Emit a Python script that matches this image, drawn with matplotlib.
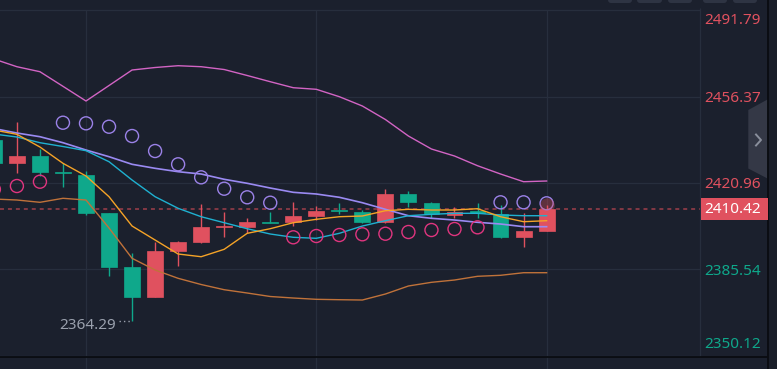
import matplotlib.pyplot as plt
from matplotlib.patches import Polygon, FancyBboxPatch, Rectangle
from matplotlib.transforms import blended_transform_factory

# candle data (oldest -> newest)
opens = [2438.56, 2429.26, 2432.01, 2425.46, 2424.35, 2408.54, 2386.44, 2374.39, 2393.23, 2396.92,
         2402.98, 2403.06, 2404.98, 2405.11, 2407.56, 2409.90, 2408.95, 2405.11, 2416.32, 2412.88,
         2407.85, 2409.36, 2408.26, 2398.96, 2401.42]
closes = [2429.14, 2432.01, 2425.58, 2425.21, 2408.54, 2386.68, 2374.39, 2393.23, 2396.79, 2402.93,
          2403.14, 2404.86, 2404.74, 2407.56, 2409.49, 2409.36, 2405.11, 2416.32, 2413.05, 2408.26,
          2409.20, 2408.54, 2398.96, 2401.42, 2410.42]
highs = [2440.50, 2446.05, 2434.75, 2429.26, 2425.99, 2408.60, 2392.17, 2396.92, 2397.32, 2412.23,
         2408.95, 2406.50, 2409.20, 2413.05, 2411.66, 2412.64, 2409.90, 2418.37, 2417.80, 2413.29,
         2411.00, 2412.64, 2411.94, 2408.54, 2412.00]
lows = [2427.50, 2425.17, 2423.82, 2419.44, 2407.97, 2382.99, 2364.29, 2374.30, 2387.09, 2396.26,
        2398.96, 2400.35, 2404.45, 2403.34, 2405.80, 2408.13, 2404.70, 2404.70, 2411.00, 2406.50,
        2406.50, 2406.74, 2398.31, 2394.87, 2401.42]

# indicators
ma5 = [2442.65, 2440.89, 2435.69, 2429.02, 2423.82, 2415.34, 2403.34, 2397.61, 2391.88, 2390.77,
       2393.80, 2400.35, 2402.24, 2404.70, 2406.09, 2407.15, 2407.44, 2409.61, 2410.18, 2409.90,
       2409.90, 2410.43, 2407.15, 2405.11, 2405.52]
ma10 = [2441.01, 2439.79, 2437.45, 2435.90, 2434.18, 2429.67, 2422.18, 2415.34, 2410.59, 2407.15,
        2404.70, 2402.24, 2400.07, 2398.72, 2398.31, 2400.35, 2403.34, 2405.52, 2407.56, 2408.13,
        2408.54, 2408.54, 2407.85, 2407.56, 2407.56]
ma30 = [2443.27, 2441.42, 2439.91, 2437.45, 2434.46, 2431.72, 2428.61, 2426.97, 2425.58, 2424.64,
        2422.47, 2420.83, 2418.90, 2417.14, 2416.45, 2415.10, 2412.88, 2410.18, 2407.56, 2406.50,
        2405.80, 2404.86, 2404.16, 2403.06, 2403.06]
boll_up = [2471.72, 2468.57, 2466.52, 2460.54, 2454.53, 2460.87, 2467.22, 2468.24, 2468.98, 2468.57,
           2467.42, 2464.97, 2462.43, 2459.97, 2459.32, 2456.29, 2452.48, 2446.95, 2440.19, 2434.87,
           2432.01, 2428.03, 2424.64, 2421.48, 2421.77]
boll_dn = [2414.40, 2413.99, 2413.05, 2414.69, 2413.99, 2402.53, 2390.12, 2385.33, 2381.93, 2379.39,
           2377.26, 2375.91, 2374.48, 2373.86, 2373.33, 2373.17, 2373.04, 2375.50, 2378.78, 2380.29,
           2381.23, 2382.75, 2383.16, 2384.22, 2384.22]
sar = [2418.37, 2419.72, 2421.48, 2445.64, 2445.39, 2444.00, 2440.19, 2434.05, 2428.61, 2423.28,
       2418.62, 2415.10, 2412.88, 2398.72, 2399.25, 2399.66, 2399.95, 2400.19, 2400.89, 2401.71,
       2402.12, 2402.81, 2413.05, 2413.05, 2412.64]

price_ticks = [2491.79, 2456.37, 2420.96, 2385.54, 2350.12]
grid_candles = [4, 14, 24]
last_price = 2410.42
low_price = 2364.29
low_index = 6

BG = '#1b202d'
GRID = '#272e3d'
RED = '#e0515f'
GREEN = '#0fa88b'
TXT_GRAY = '#9aa0ad'
FS = 11

plt.rcParams['font.family'] = ['Noto Sans', 'DejaVu Sans']

fig = plt.figure(figsize=(7.77, 3.69), dpi=100, facecolor=BG)
ax = fig.add_axes([0, 12 / 369, 700 / 777, 357 / 369])
ax.set_xlim(0.266, 30.66)
ax.set_ylim(2349.71, 2495.885)
ax.set_axis_off()
px = (2495.885 - 2349.71) / 357  # price per pixel

# grid
for p in price_ticks:
    ax.axhline(p, color=GRID, lw=0.9, zorder=0)
for i in grid_candles:
    ax.vlines(i, 2349.71 - 12 * px, price_ticks[0], color=GRID, lw=0.9, zorder=0, clip_on=False)

# last price dotted line
ax.axhline(last_price, color='#8a3a46', lw=1.3, dashes=(2.2, 2.2), zorder=1)

# candles
xs = list(range(len(opens)))
for i in xs:
    o, c = opens[i], closes[i]
    col = RED if c >= o else GREEN
    ax.vlines(i, lows[i], highs[i], color=col, lw=1.0, zorder=2)
    ax.bar(i, max(abs(c - o), 0.3), bottom=min(o, c), width=0.69, color=col,
           edgecolor=col, lw=0.5, zorder=3)

# indicator lines
ax.plot(xs, boll_up, color='#d264c4', lw=1.0, zorder=4)
ax.plot(xs, boll_dn, color='#c0723a', lw=1.0, zorder=4)
ax.plot(xs, ma30, color='#9a8af2', lw=1.2, zorder=4)
ax.plot(xs, ma10, color='#1fb1d1', lw=1.0, zorder=4)
ax.plot(xs, ma5, color='#f5a327', lw=1.0, zorder=4)

# parabolic SAR
sar_cols = ['#9b82e8' if s > c else '#e0357f' for s, c in zip(sar, closes)]
ax.scatter(xs, sar, s=88, facecolors='none', edgecolors=sar_cols, linewidths=1.0, zorder=5)

# glow on live candle
ax.scatter([xs[-1]], [highs[-1]], s=110, color=RED, alpha=0.35, lw=0, zorder=5)

# lowest price marker
ax.plot([low_index - 0.56, low_index], [low_price, low_price], color=TXT_GRAY,
        lw=1.0, dashes=(1, 2.2), zorder=5)
ax.annotate(f'{low_price:.2f}', xy=(low_index, low_price), xytext=(-16, -4),
            textcoords='offset pixels', ha='right', va='center', color=TXT_GRAY, fontsize=FS)

# price axis labels
n = len(price_ticks)
for k, p in enumerate(price_ticks):
    col = RED if p > last_price else GREEN
    dy = -2
    if k == 0:
        dy = -10
    elif k == n - 1:
        dy = 11
    ax.annotate(f'{p:.2f}', xy=(1, p), xycoords=('axes fraction', 'data'), xytext=(61, dy),
                textcoords='offset pixels', ha='right', va='center', color=col, fontsize=FS)

# overlay in pixel coords for the side panel decorations
ov = fig.add_axes([0, 0, 1, 1])
ov.set_xlim(0, 777)
ov.set_ylim(369, 0)
ov.set_axis_off()

ov.vlines(700, 8, 357, color=GRID, lw=0.9)
ov.hlines(357, 0, 768, color='#0a0c11', lw=1.3)
ov.add_patch(Rectangle((768.5, 0), 9, 369, color='#1a1e29', lw=0))
ov.vlines(768, 0, 369, color='#0a0c11', lw=1.3)

# current price tag
tr = blended_transform_factory(ov.transData, ax.transData)
ov.add_patch(Rectangle((700.5, last_price - 11 * px), 67, 22 * px, transform=tr, color=RED,
                       lw=0, zorder=6, clip_on=False))
ov.text(761, last_price - 0.4 * px, f'{last_price:.2f}', transform=tr, ha='right', va='center',
        color='white', fontsize=FS, zorder=7)

# collapse tab
ov.add_patch(Polygon([(748.3, 110), (767.5, 99.5), (767.5, 178.5), (748.3, 168.5)],
                     closed=True, color='#343846', lw=0))
ov.plot([756, 761, 756], [134.5, 140, 145.5], color='#8a8f9c', lw=1.4)

# toolbar buttons peeking at the top
for x0, x1 in [(608, 632), (637, 662), (668, 692), (703, 727), (733, 757)]:
    ov.add_patch(FancyBboxPatch((x0, -6), x1 - x0, 9, boxstyle='round,pad=0,rounding_size=3',
                                color='#2e3443', lw=0))

fig.savefig('out.png', dpi=100, facecolor=BG)
